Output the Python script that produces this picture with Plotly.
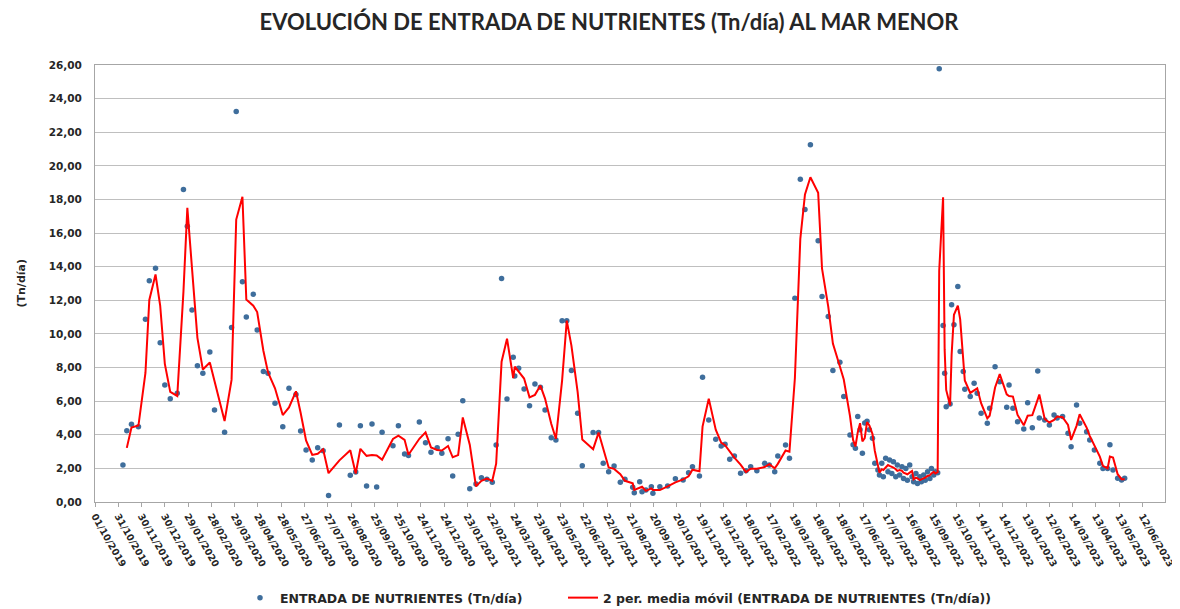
import pandas as pd
import plotly.graph_objects as go

TITLE = "EVOLUCIÓN DE ENTRADA DE NUTRIENTES (Tn/día) AL MAR MENOR"
Y_TITLE = "(Tn/día)"
SERIES_NAME = "ENTRADA DE NUTRIENTES (Tn/día)"
MA_NAME = "2 per. media móvil (ENTRADA DE NUTRIENTES (Tn/día))"

dates = [
    "2019-11-06", "2019-11-11", "2019-11-17", "2019-11-26", "2019-12-05", "2019-12-10",
    "2019-12-18", "2019-12-24", "2019-12-30", "2020-01-06", "2020-01-15", "2020-01-23",
    "2020-01-28", "2020-02-03", "2020-02-10", "2020-02-17", "2020-02-26", "2020-03-03",
    "2020-03-16", "2020-03-25", "2020-03-31", "2020-04-08", "2020-04-13", "2020-04-22",
    "2020-04-27", "2020-05-05", "2020-05-11", "2020-05-20", "2020-05-30", "2020-06-07",
    "2020-06-16", "2020-06-22", "2020-06-29", "2020-07-07", "2020-07-14", "2020-07-21",
    "2020-07-28", "2020-08-11", "2020-08-25", "2020-09-01", "2020-09-07", "2020-09-15",
    "2020-09-22", "2020-09-28", "2020-10-05", "2020-10-19", "2020-10-26", "2020-11-03",
    "2020-11-08", "2020-11-22", "2020-11-30", "2020-12-07", "2020-12-15", "2020-12-21",
    "2020-12-29", "2021-01-04", "2021-01-11", "2021-01-17", "2021-01-26", "2021-02-03",
    "2021-02-10", "2021-02-17", "2021-02-24", "2021-03-01", "2021-03-08", "2021-03-15",
    "2021-03-23", "2021-03-25", "2021-03-30", "2021-04-06", "2021-04-13", "2021-04-20",
    "2021-04-27", "2021-05-03", "2021-05-11", "2021-05-17", "2021-05-25", "2021-05-31",
    "2021-06-06", "2021-06-14", "2021-06-20", "2021-07-04", "2021-07-11", "2021-07-17",
    "2021-07-24", "2021-07-31", "2021-08-08", "2021-08-14", "2021-08-24", "2021-08-26",
    "2021-09-02", "2021-09-05", "2021-09-10", "2021-09-17", "2021-09-19", "2021-09-28",
    "2021-10-08", "2021-10-18", "2021-10-28", "2021-11-04", "2021-11-09", "2021-11-18",
    "2021-11-22", "2021-11-30", "2021-12-09", "2021-12-16", "2021-12-21", "2021-12-27",
    "2022-01-02", "2022-01-10", "2022-01-17", "2022-01-23", "2022-01-31", "2022-02-10",
    "2022-02-16", "2022-02-23", "2022-02-27", "2022-03-09", "2022-03-14", "2022-03-21",
    "2022-03-28", "2022-04-03", "2022-04-10", "2022-04-20", "2022-04-25", "2022-05-03",
    "2022-05-09", "2022-05-18", "2022-05-23", "2022-05-31", "2022-06-04", "2022-06-07",
    "2022-06-10", "2022-06-13", "2022-06-16", "2022-06-19", "2022-06-22", "2022-06-25",
    "2022-06-29", "2022-07-02", "2022-07-06", "2022-07-08", "2022-07-11", "2022-07-13",
    "2022-07-16", "2022-07-19", "2022-07-21", "2022-07-24", "2022-07-26", "2022-07-29",
    "2022-07-31", "2022-08-03", "2022-08-06", "2022-08-08", "2022-08-11", "2022-08-13",
    "2022-08-16", "2022-08-19", "2022-08-21", "2022-08-24", "2022-08-26", "2022-08-29",
    "2022-08-31", "2022-09-03", "2022-09-05", "2022-09-08", "2022-09-11", "2022-09-13",
    "2022-09-16", "2022-09-18", "2022-09-21", "2022-09-23", "2022-09-28", "2022-09-30",
    "2022-10-02", "2022-10-07", "2022-10-09", "2022-10-12", "2022-10-17", "2022-10-20",
    "2022-10-24", "2022-10-26", "2022-11-02", "2022-11-07", "2022-11-11", "2022-11-16",
    "2022-11-24", "2022-11-27", "2022-12-04", "2022-12-10", "2022-12-19", "2022-12-22",
    "2022-12-27", "2023-01-02", "2023-01-10", "2023-01-15", "2023-01-21", "2023-01-28",
    "2023-01-30", "2023-02-06", "2023-02-12", "2023-02-18", "2023-02-22", "2023-03-01",
    "2023-03-08", "2023-03-12", "2023-03-19", "2023-03-23", "2023-04-01", "2023-04-05",
    "2023-04-11", "2023-04-18", "2023-04-22", "2023-04-28", "2023-05-01", "2023-05-05",
    "2023-05-11", "2023-05-16", "2023-05-20",
]

values = [
    2.20, 4.24, 4.62, 4.48, 10.87, 13.17,
    13.90, 9.48, 6.96, 6.15, 6.47, 18.60,
    16.40, 11.43, 8.10, 7.66, 8.93, 5.48,
    4.15, 10.38, 23.23, 13.10, 11.00, 12.36,
    10.24, 7.76, 7.66, 5.87, 4.48, 6.77,
    6.40, 4.23, 3.10, 2.50, 3.23, 3.05,
    0.38, 4.58, 1.59, 1.79, 4.54, 0.95,
    4.64, 0.89, 4.15, 3.35, 4.54, 2.86,
    2.76, 4.76, 3.53, 2.96, 3.23, 2.90,
    3.77, 1.55, 4.03, 6.03, 0.79, 1.07,
    1.45, 1.35, 1.17, 3.39, 13.30, 6.13,
    8.61, 7.50, 7.96, 6.73, 5.73, 7.02,
    6.83, 5.48, 3.83, 3.69, 10.79, 10.79,
    7.82, 5.28, 2.16, 4.13, 4.13, 2.30,
    1.80, 2.14, 1.17, 1.35, 0.88, 0.55,
    1.21, 0.61, 0.71, 0.91, 0.52, 0.90,
    0.95, 1.39, 1.31, 1.74, 2.10, 1.55,
    7.42, 4.88, 3.73, 3.33, 3.43, 2.54,
    2.74, 1.71, 1.86, 2.10, 1.86, 2.30,
    2.20, 1.80, 2.74, 3.39, 2.60, 12.12,
    19.20, 17.40, 21.25, 15.54, 12.22, 11.03,
    7.82, 8.31, 6.27, 3.99, 3.40, 3.20,
    5.08, 4.30, 2.90, 4.70, 4.80, 4.30,
    3.80, 2.30, 1.90, 1.60, 2.30, 1.50,
    2.60, 1.80, 2.50, 1.70, 2.40, 1.50,
    2.20, 1.60, 2.10, 1.40, 2.00, 1.30,
    2.20, 1.50, 1.20, 1.70, 1.10, 1.50,
    1.20, 1.60, 1.30, 1.80, 1.40, 2.00,
    1.60, 1.80, 1.74, 25.77, 10.50, 7.66,
    5.67, 5.83, 11.73, 10.54, 12.82, 8.95,
    7.76, 6.71, 6.27, 7.06, 6.47, 5.28,
    4.68, 5.58, 8.05, 7.16, 5.64, 6.96,
    5.58, 4.78, 4.35, 5.91, 4.42, 7.80,
    5.00, 4.88, 4.58, 5.18, 5.00, 5.08,
    4.09, 3.29, 5.77, 4.68, 4.18, 3.69,
    3.10, 2.30, 2.00, 2.00, 3.40, 1.90,
    1.41, 1.31, 1.41,
]

tick_labels = [
    "01/10/2019", "31/10/2019", "30/11/2019", "30/12/2019", "29/01/2020", "28/02/2020",
    "29/03/2020", "28/04/2020", "28/05/2020", "27/06/2020", "27/07/2020", "26/08/2020",
    "25/09/2020", "25/10/2020", "24/11/2020", "24/12/2020", "23/01/2021", "22/02/2021",
    "24/03/2021", "23/04/2021", "23/05/2021", "22/06/2021", "22/07/2021", "21/08/2021",
    "20/09/2021", "20/10/2021", "19/11/2021", "19/12/2021", "18/01/2022", "17/02/2022",
    "19/03/2022", "18/04/2022", "18/05/2022", "17/06/2022", "17/07/2022", "16/08/2022",
    "15/09/2022", "15/10/2022", "14/11/2022", "14/12/2022", "13/01/2023", "12/02/2023",
    "14/03/2023", "13/04/2023", "13/05/2023", "12/06/2023",
]
y_ticks = [0, 2, 4, 6, 8, 10, 12, 14, 16, 18, 20, 22, 24, 26]

x = pd.to_datetime(dates)
moving_avg = pd.Series(values).rolling(2).mean()
tick_vals = pd.to_datetime(tick_labels, format="%d/%m/%Y")

TITLE_FONT = "Lato, 'Open Sans', Arial, sans-serif"
AX_FONT = "'DejaVu Sans', Arial, sans-serif"
TEXT_COLOR = "#262626"

W, H = 1172, 601
L, T, PW, PH = 87, 57, 1070, 437

fig = go.Figure()
fig.add_trace(go.Scatter(
    x=x, y=values, mode="markers", name="<b>" + SERIES_NAME + "</b>", legend="legend",
    marker=dict(color="#3F6E9C", size=5.5),
))
fig.add_trace(go.Scatter(
    x=x[1:], y=moving_avg[1:], mode="lines", name="<b>" + MA_NAME + "</b>", legend="legend2",
    line=dict(color="#FF0000", width=2),
))

legend_common = dict(orientation="h", yanchor="middle", y=-96 / PH, xanchor="left",
                     bgcolor="rgba(0,0,0,0)",
                     font=dict(family=AX_FONT, size=12.5, color=TEXT_COLOR))

fig.update_layout(
    width=W, height=H,
    paper_bgcolor="white", plot_bgcolor="white",
    margin=dict(l=L, r=W - L - PW, t=T, b=H - T - PH, autoexpand=False),
    title=dict(text="<b>" + TITLE + "</b>", x=601 / W, xanchor="center",
               y=1 - 14 / H, yanchor="middle", yref="container",
               font=dict(family=TITLE_FONT, size=22, color=TEXT_COLOR)),
    showlegend=True,
    legend=dict(legend_common, x=(232 - L) / PW, itemwidth=30),
    legend2=dict(legend_common, x=(555 - L) / PW, itemwidth=30),
    annotations=[dict(
        text="<b>" + Y_TITLE + "</b>", xref="paper", yref="paper",
        x=(13 - L) / PW, y=0.5, xanchor="center", yanchor="middle", showarrow=False,
        textangle=-90, font=dict(family=AX_FONT, size=11, color=TEXT_COLOR),
    )],
)

fig.update_xaxes(
    type="date", range=["2019-10-01", "2023-07-11"], automargin=False,
    tickmode="array", tickvals=tick_vals, ticktext=["<b>" + t + "</b>" for t in tick_labels],
    tickangle=60, tickfont=dict(family=AX_FONT, size=9.5, color=TEXT_COLOR),
    showgrid=False, showline=True, linecolor="#A6A6A6", mirror=True,
    ticks="outside", ticklen=4, tickcolor="#A6A6A6",
)
fig.update_yaxes(
    range=[0, 26], automargin=False, tickmode="array", tickvals=y_ticks,
    ticktext=["<b>" + f"{v:.2f}".replace(".", ",") + "</b>" for v in y_ticks],
    tickfont=dict(family=AX_FONT, size=10.5, color=TEXT_COLOR),
    showgrid=True, gridcolor="#BFBFBF", gridwidth=1,
    showline=True, linecolor="#A6A6A6", mirror=True, zeroline=False,
    ticks="", ticklabelstandoff=10,
)

fig.write_html("out.html")
